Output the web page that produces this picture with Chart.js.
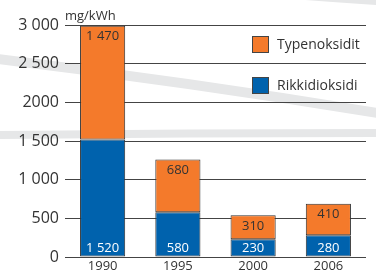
<!DOCTYPE html>
<html><head><meta charset="utf-8">
<script src="https://cdn.jsdelivr.net/npm/chart.js@4"></script>
<style>html,body{margin:0;padding:0;background:#fff}#w{width:376px;height:273px}</style>
</head><body><div id="w"><canvas id="c"></canvas></div>
<script>
const categories = ['1990', '1995', '2000', '2006'];
const sulfurDioxide = [1520, 580, 230, 280];
const nitrogenOxides = [1470, 680, 310, 410];
const seriesNames = ['Rikkidioksidi', 'Typenoksidit'];
const yTickLabels = {0: '0', 500: '500', 1000: '1 000', 1500: '1 500', 2000: '2000', 2500: '2 500', 3000: '3 000'};
const unitLabel = 'mg/kWh';
const colors = ['#0062ad', '#f47a2b'];
const FONT = '"Open Sans", sans-serif';

function fmt(v){ return String(v).replace(/\B(?=(\d{3})+(?!\d))/g, ' '); }

const decor = {
  id: 'decor',
  beforeDraw(chart){
    const c = chart.ctx;
    c.save();
    c.fillStyle = '#fff'; c.fillRect(0,0,chart.width,chart.height);
    c.strokeStyle = '#e6e7e8'; c.lineCap = 'butt';
    c.lineWidth = 10;
    c.beginPath(); c.moveTo(-10,58); c.quadraticCurveTo(190,82,390,115); c.stroke();
    c.lineWidth = 8;
    c.beginPath(); c.moveTo(-10,135); c.quadraticCurveTo(190,133,390,133); c.stroke();
    c.lineWidth = 12;
    c.beginPath(); c.moveTo(280,-8); c.quadraticCurveTo(330,-4,390,0); c.stroke();
    c.restore();
  },
  afterDraw(chart){
    const c = chart.ctx;
    const ca = chart.chartArea;
    c.save();
    c.fillStyle = '#333';
    c.font = '13px ' + FONT;
    c.textAlign = 'left'; c.textBaseline = 'middle';
    c.fillText(unitLabel, ca.left, 16);
    const items = [[1, 45], [0, 86]];
    c.font = '14px ' + FONT;
    items.forEach(([i, y]) => {
      c.fillStyle = colors[i];
      c.fillRect(252.5, y - 8.5, 16, 16);
      c.strokeStyle = '#444'; c.lineWidth = 1;
      c.strokeRect(252.5, y - 8.5, 16, 16);
      c.fillStyle = '#333';
      c.fillText(chart.data.datasets[i].label, 277, y);
    });
    c.font = '13px ' + FONT;
    c.textAlign = 'center';
    chart.data.datasets.forEach((ds, di) => {
      const meta = chart.getDatasetMeta(di);
      meta.data.forEach((bar, j) => {
        if (di === 0) {
          c.fillStyle = '#fff';
          c.fillText(fmt(ds.data[j]), bar.x, bar.base - 8);
        } else {
          c.fillStyle = '#333';
          c.fillText(fmt(ds.data[j]), bar.x, bar.y + 11);
        }
      });
    });
    c.restore();
  }
};

new Chart(document.getElementById('c'), {
  type: 'bar',
  data: {
    labels: categories,
    datasets: [
      {label: seriesNames[0], data: sulfurDioxide, backgroundColor: colors[0], borderColor: '#333', borderWidth: 1, borderSkipped: false},
      {label: seriesNames[1], data: nitrogenOxides, backgroundColor: colors[1], borderColor: '#333', borderWidth: 1, borderSkipped: false}
    ]
  },
  options: {
    responsive: true, maintainAspectRatio: false, animation: false,
    layout: {padding: {left: 0, right: 10, top: 25, bottom: 0}},
    datasets: {bar: {barPercentage: 0.6, categoryPercentage: 1.0}},
    plugins: {legend: {display: false}, tooltip: {enabled: false}},
    scales: {
      x: {
        stacked: true,
        grid: {display: false, drawTicks: false, tickLength: 0},
        border: {display: false},
        ticks: {color: '#333', font: {family: FONT, size: 13}, padding: 1, maxRotation: 0},
        afterFit(s){ s.height = 16; }
      },
      y: {
        stacked: true, min: 0, max: 3000,
        border: {display: false},
        grid: {color: '#444', lineWidth: 1, drawTicks: false},
        ticks: {stepSize: 500, color: '#333', font: {family: FONT, size: 16}, padding: 6,
          callback: v => yTickLabels[v] ?? ''},
        afterFit(s){ s.width = 65; }
      }
    }
  },
  plugins: [decor]
});
</script></body></html>
